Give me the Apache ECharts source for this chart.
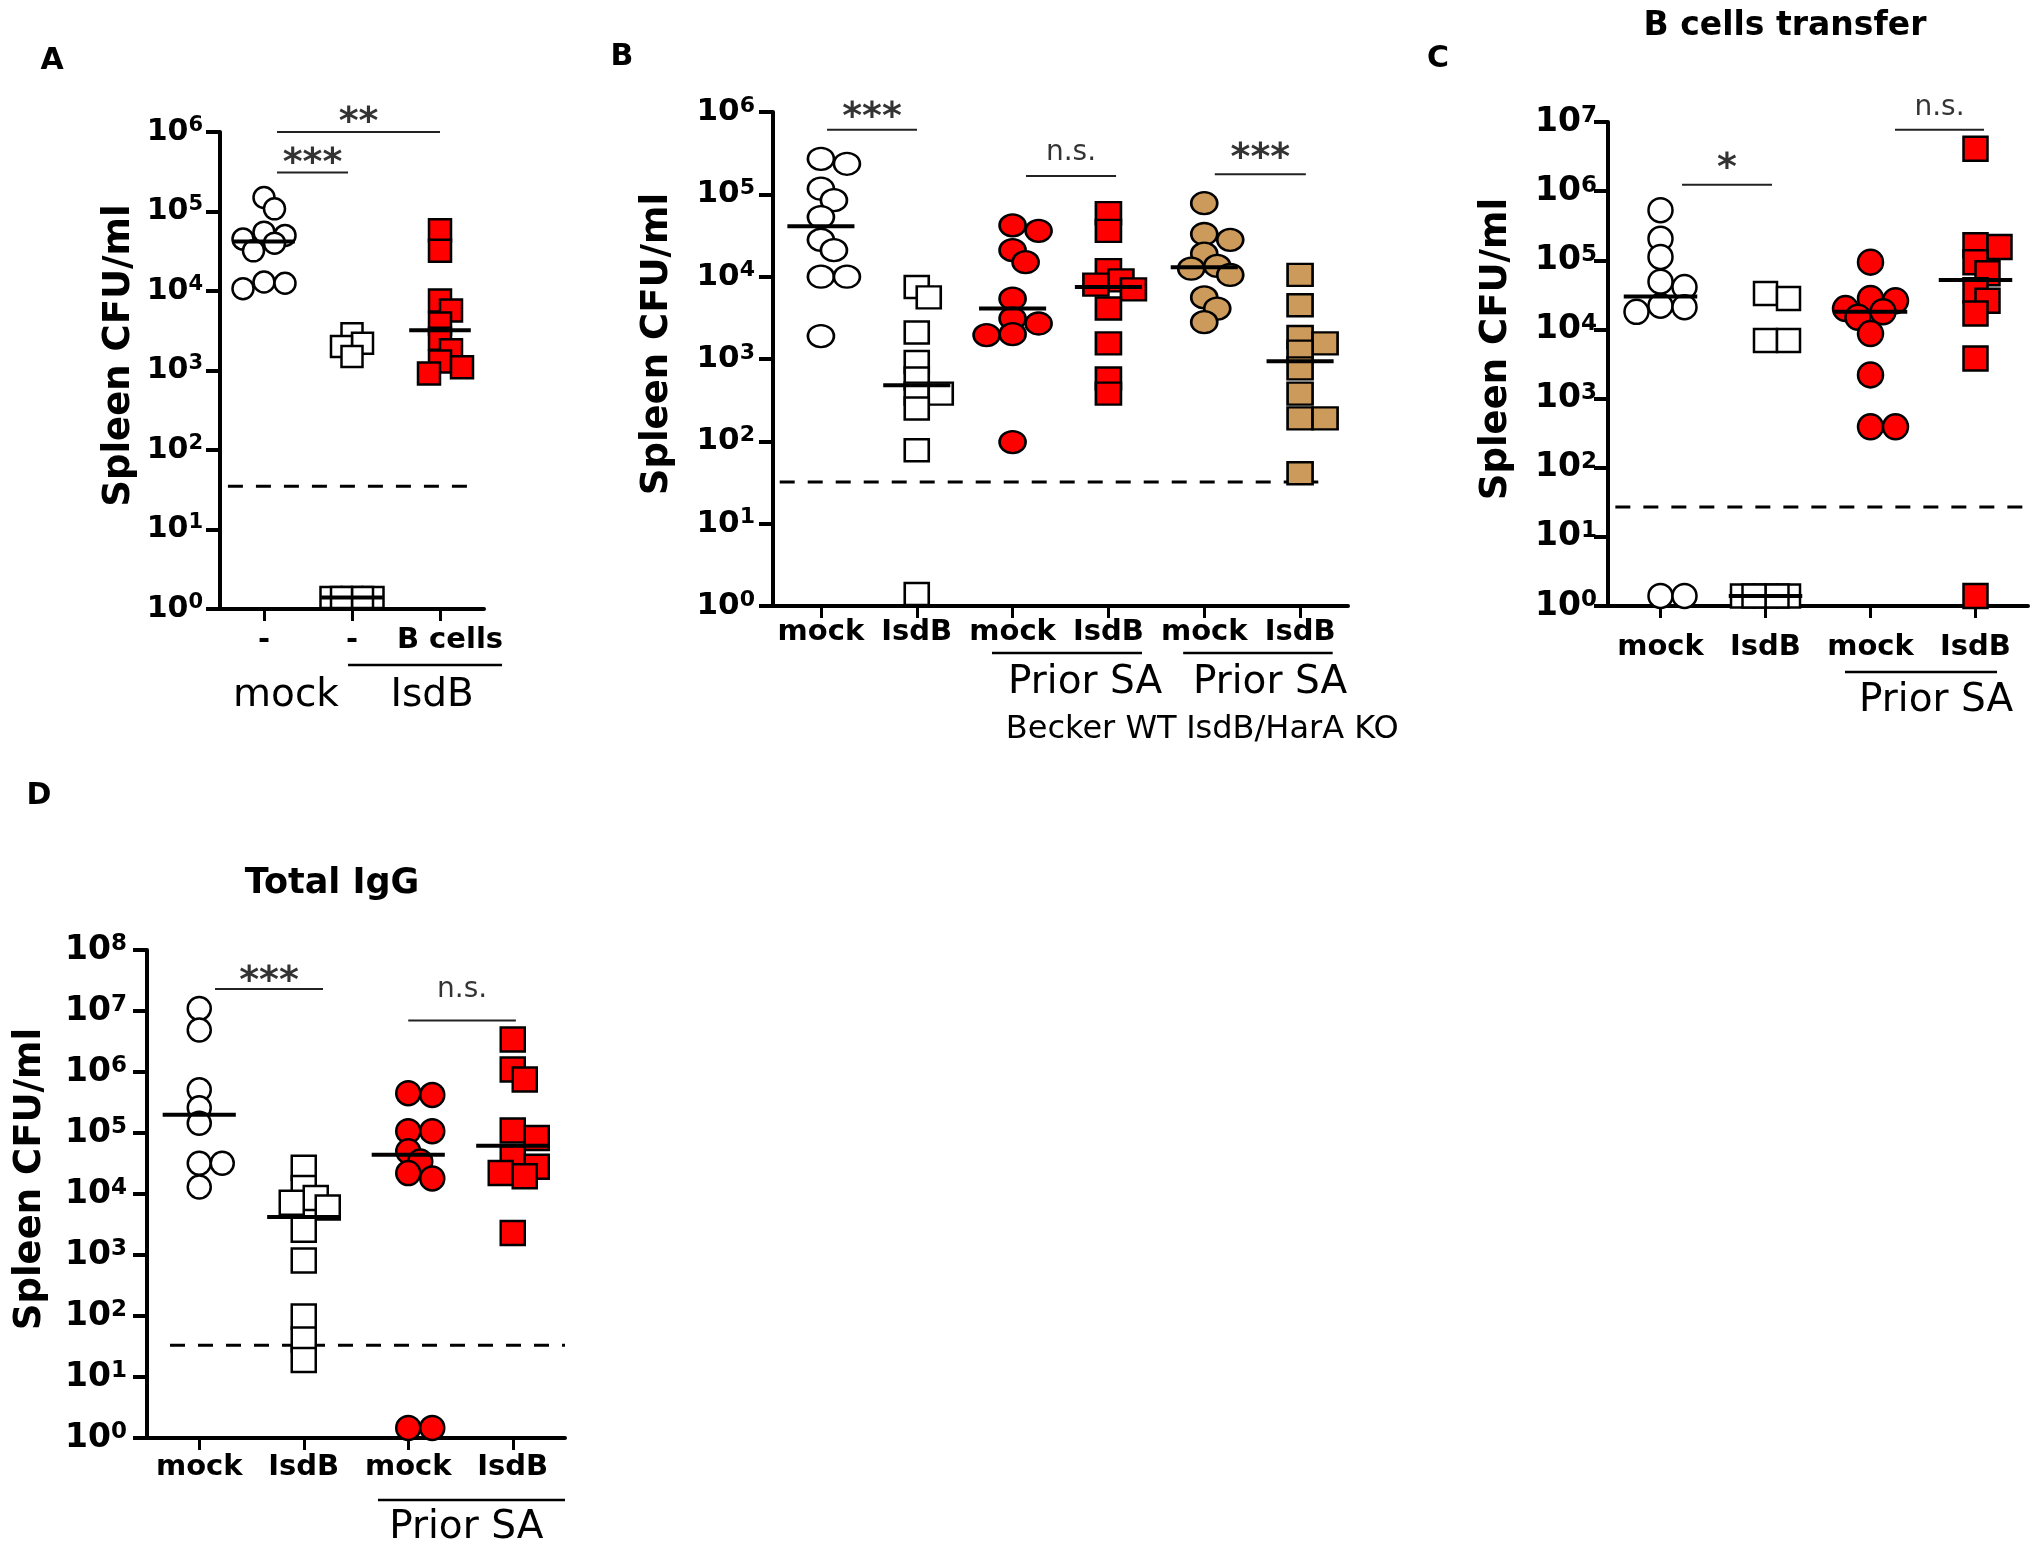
<!DOCTYPE html>
<html><head><meta charset="utf-8">
<script src="https://cdn.jsdelivr.net/npm/echarts@6/dist/echarts.min.js"></script>
<style>html,body{margin:0;padding:0;background:#fff}#c{width:2040px;height:1553px}</style>
</head><body><div id="c"></div>
<script>
// ================= DATA =================
const catsA = ['-', '-', 'B cells'];
const groupTextA = ['mock', 'IsdB'];
const A_mock   = [1.5e5, 1.08e5, 5.5e4, 5e4, 4.5e4, 4e4, 3.2e4, 1.3e4, 1.25e4, 1.07e4];
const A_isdb   = [2.9e3, 2.2e3, 2.0e3, 1.5e3, 1.4, 1.4, 1.4, 1.4, 1.4];
const A_bcells = [5.8e4, 3.2e4, 7.6e3, 5.7e3, 3.9e3, 2.5e3, 1.8e3, 1.3e3, 1.1e3, 9.2e2];
const A_medians = [4.2e4, 1.4, 3.2e3];
const A_limit = 35;
const A_sig = ['**', '***'];
const A_sigLevel = [1e6, 3.1e5];

const catsB = ['mock', 'IsdB', 'mock', 'IsdB', 'mock', 'IsdB'];
const groupTextB = ['Prior SA', 'Prior SA', 'Becker WT', 'IsdB/HarA KO'];
const B_mock      = [2.7e5, 2.35e5, 1.17e5, 8.5e4, 5.3e4, 2.8e4, 2.1e4, 1.0e4, 1.0e4, 1.9e3];
const B_isdb      = [7.5e3, 5.6e3, 2.1e3, 9.2e2, 5.8e2, 3.8e2, 3.8e2, 2.5e2, 78, 1.4];
const B_priorMock = [4.2e4, 3.6e4, 2.1e4, 1.5e4, 5.4e3, 3.1e3, 2.7e3, 2.0e3, 1.95e3, 98];
const B_priorIsdb = [5.9e4, 3.6e4, 1.2e4, 9e3, 8e3, 7e3, 4.1e3, 1.55e3, 5.8e2, 3.8e2];
const B_koMock    = [7.8e4, 3.3e4, 2.8e4, 1.9e4, 1.35e4, 1.25e4, 1.05e4, 5.6e3, 4.1e3, 2.8e3];
const B_koIsdb    = [1.05e4, 4.5e3, 1.85e3, 1.55e3, 1.23e3, 7.7e2, 3.8e2, 1.9e2, 1.9e2, 41];
const B_medians = [4.1e4, 4.8e2, 4.1e3, 7.5e3, 1.3e4, 9.4e2];
const B_limit = 32;
const B_sig = ['***', 'n.s.', '***'];
const B_sigLevel = [6.1e5, 1.67e5, 1.75e5];

const catsC = ['mock', 'IsdB', 'mock', 'IsdB'];
const groupTextC = ['Prior SA'];
const C_mock      = [5.3e5, 2.05e5, 1.12e5, 4.9e4, 4.1e4, 2.2e4, 2.1e4, 1.8e4, 1.4, 1.4];
const C_isdb      = [3.3e4, 2.8e4, 6.9e3, 6.9e3, 1.4, 1.4, 1.4, 1.4, 1.4];
const C_priorMock = [9.4e4, 2.8e4, 2.6e4, 2.0e4, 1.8e4, 1.5e4, 8.7e3, 2.2e3, 3.9e2, 3.9e2];
const C_priorIsdb = [4.1e6, 1.65e5, 1.56e5, 9.4e4, 6.5e4, 3.7e4, 2.6e4, 1.7e4, 3.8e3, 1.4];
const C_medians = [3.0e4, 1.4, 1.8e4, 5.2e4];
const C_limit = 27;
const C_sig = ['*', 'n.s.'];
const C_sigLevel = [1.24e6, 7.7e6];

const catsD = ['mock', 'IsdB', 'mock', 'IsdB'];
const groupTextD = ['Prior SA'];
const D_mock      = [1.1e7, 4.9e6, 5.1e5, 2.6e5, 1.45e5, 3.2e4, 3.2e4, 1.3e4];
const D_isdb      = [2.7e4, 1.26e4, 8.6e3, 7.2e3, 6e3, 2.6e3, 8.1e2, 98, 41, 19];
const D_priorMock = [4.5e5, 4.2e5, 1.07e5, 1.07e5, 5e4, 3.4e4, 2.2e4, 1.8e4, 1.46, 1.46];
const D_priorIsdb = [3.4e6, 1.1e6, 7.5e5, 1.1e5, 8.3e4, 3.9e4, 2.8e4, 2.2e4, 1.95e4, 2.3e3];
const D_medians = [2.0e5, 4.2e3, 4.4e4, 6.2e4];
const D_limit = 33;
const D_sig = ['***', 'n.s.'];
const D_sigLevel = [2.3e7, 7e6];

const yTitle = 'Spleen CFU/ml';
const panelLetters = ['A', 'B', 'C', 'D'];
const titleC = 'B cells transfer';
const titleD = 'Total IgG';

// ================= STYLE / LAYOUT =================
const FN = 'DejaVu Sans';
const RED = '#ff0000', TAN = '#cc9a5a', WHITE = '#ffffff';

const panels = [
  { left: 220, top: 132, width: 264, height: 477, maxExp: 6, cats: catsA,
    catMargin: 17, tickFs: 30, tickMargin: 17, nameGap: 82,
    groups: [
      { vals: A_mock, shape: 'circle', fill: WHITE, size: [21, 21] },
      { vals: A_isdb, shape: 'rect', fill: WHITE, size: [21, 21] },
      { vals: A_bcells, shape: 'rect', fill: RED, size: [22, 22] }],
    medians: A_medians, limit: A_limit, limitSpan: [-0.41, 2.42],
    brackets: [{ x0: 0.148, x1: 2.0, gap: 20 }, { x0: 0.148, x1: 0.955, gap: 19 }],
    sig: A_sig, sigLevel: A_sigLevel,
    glines: [{ u0: 1.455, u1: 3.205, dy: 56 }],
    gtexts: [{ i: 0, u: 0.75, dy: 87, fs: 39 }, { i: 1, u: 2.41, dy: 87, fs: 39 }], gtext: groupTextA },
  { left: 773, top: 112, width: 575, height: 494, maxExp: 6, cats: catsB,
    catMargin: 12, tickFs: 31, tickMargin: 18, nameGap: 97,
    groups: [
      { vals: B_mock, shape: 'circle', fill: WHITE, size: [26, 22] },
      { vals: B_isdb, shape: 'rect', fill: WHITE, size: [24, 22] },
      { vals: B_priorMock, shape: 'circle', fill: RED, size: [26, 22] },
      { vals: B_priorIsdb, shape: 'rect', fill: RED, size: [25, 22] },
      { vals: B_koMock, shape: 'circle', fill: TAN, size: [26, 22] },
      { vals: B_koIsdb, shape: 'rect', fill: TAN, size: [25, 22] }],
    medians: B_medians, limit: B_limit, limitSpan: [-0.43, 5.19],
    brackets: [{ x0: 0.064, x1: 1.003, gap: 22 }, { x0: 2.14, x1: 3.08, gap: 23 }, { x0: 4.11, x1: 5.06, gap: 26 }],
    sig: B_sig, sigLevel: B_sigLevel,
    glines: [{ u0: 2.285, u1: 3.85, dy: 47 }, { u0: 4.28, u1: 5.84, dy: 47 }],
    gtexts: [{ i: 0, u: 3.256, dy: 77, fs: 39 }, { i: 1, u: 5.186, dy: 77, fs: 39 },
             { i: 2, u: 3.32, dy: 124, fs: 32 }, { i: 3, u: 5.42, dy: 124, fs: 32 }], gtext: groupTextB },
  { left: 1608, top: 122, width: 420, height: 484, maxExp: 7, cats: catsC,
    catMargin: 27, tickFs: 33, tickMargin: 11, nameGap: 93,
    groups: [
      { vals: C_mock, shape: 'circle', fill: WHITE, size: [24, 24] },
      { vals: C_isdb, shape: 'rect', fill: WHITE, size: [23, 23] },
      { vals: C_priorMock, shape: 'circle', fill: RED, size: [25, 25] },
      { vals: C_priorIsdb, shape: 'rect', fill: RED, size: [24, 24] }],
    medians: C_medians, limit: C_limit, limitSpan: [-0.43, 3.5],
    brackets: [{ x0: 0.205, x1: 1.062, gap: 26 }, { x0: 2.233, x1: 3.081, gap: 22 }],
    sig: C_sig, sigLevel: C_sigLevel,
    glines: [{ u0: 2.257, u1: 3.705, dy: 66 }],
    gtexts: [{ i: 0, u: 3.124, dy: 95, fs: 39 }], gtext: groupTextC },
  { left: 147, top: 950, width: 418, height: 488, maxExp: 8, cats: catsD,
    catMargin: 15, tickFs: 33, tickMargin: 20, nameGap: 98,
    groups: [
      { vals: D_mock, shape: 'circle', fill: WHITE, size: [23, 23] },
      { vals: D_isdb, shape: 'rect', fill: WHITE, size: [24, 24] },
      { vals: D_priorMock, shape: 'circle', fill: RED, size: [24, 24] },
      { vals: D_priorIsdb, shape: 'rect', fill: RED, size: [24, 24] }],
    medians: D_medians, limit: D_limit, limitSpan: [-0.28, 3.5],
    brackets: [{ x0: 0.151, x1: 1.184, gap: 17 }, { x0: 2.0, x1: 3.03, gap: 31 }],
    sig: D_sig, sigLevel: D_sigLevel,
    glines: [{ u0: 2.21, u1: 4.0, dy: 62 }],
    gtexts: [{ i: 0, u: 3.055, dy: 90, fs: 39 }], gtext: groupTextD }
];

const XC = 0.5;

function swarm(vals, gi, w, h, cw, ppd) {
  const placed = [], out = [];
  const s = w / 2;
  const cands = [0, s, -s, 2 * s, -2 * s];
  vals.forEach(v => {
    const y = Math.log10(v) * ppd;
    let best = 0, bestD = -1;
    for (const c of cands) {
      let md = Infinity;
      for (const p of placed) {
        md = Math.min(md, Math.hypot((c - p[0]) / w, (y - p[1]) / h));
      }
      if (md >= 0.65) { best = c; break; }
      if (md > bestD) { bestD = md; best = c; }
    }
    placed.push([best, y]);
    out.push([gi + XC + best / cw, v]);
  });
  return out;
}

const option = { animation: false, backgroundColor: '#fff', grid: [], xAxis: [], yAxis: [], series: [], graphic: [] };

panels.forEach((p, k) => {
  const n = p.cats.length, cw = p.width / n, ppd = p.height / p.maxExp, bottom = p.top + p.height;
  const sf = Math.round(p.tickFs * 0.7);
  option.grid.push({ left: p.left, top: p.top, width: p.width, height: p.height, containLabel: false, outerBoundsMode: 'none' });
  option.xAxis.push({
    type: 'category', gridIndex: k, data: p.cats.map(c => c === 'B cells' ? { value: c, textStyle: { padding: [0, 0, 0, 20] } } : c),
    boundaryGap: true,
    axisLine: { show: true, onZero: false, lineStyle: { color: '#000', width: 4 } },
    axisTick: { show: true, alignWithLabel: true, inside: false, length: 12, lineStyle: { color: '#000', width: 3 } },
    axisLabel: { show: true, interval: 0, margin: p.catMargin, fontFamily: FN, fontWeight: 'bold', fontSize: 29, color: '#000' },
    splitLine: { show: false }
  });
  option.xAxis.push({ type: 'value', gridIndex: k, min: 0, max: n, show: false, splitLine: { show: false },
    axisLine: { show: false, onZero: false } });
  option.yAxis.push({
    type: 'log', logBase: 10, gridIndex: k, min: 1, max: Math.pow(10, p.maxExp), position: 'left',
    axisLine: { show: true, onZero: false, lineStyle: { color: '#000', width: 4 } },
    axisTick: { show: true, inside: false, length: 14, lineStyle: { color: '#000', width: 4 } },
    minorTick: { show: false }, splitLine: { show: false }, minorSplitLine: { show: false },
    axisLabel: {
      show: true, margin: p.tickMargin,
      formatter: v => '{b|10}{s|' + Math.round(Math.log10(v)) + '}',
      rich: {
        b: { fontFamily: FN, fontWeight: 'bold', fontSize: p.tickFs, color: '#000', lineHeight: 34 },
        s: { fontFamily: FN, fontWeight: 'bold', fontSize: sf, color: '#000', lineHeight: 20, verticalAlign: 'top' }
      }
    },
    name: yTitle, nameLocation: 'middle', nameRotate: 90, nameGap: p.nameGap,
    nameTextStyle: { fontFamily: FN, fontWeight: 'bold', fontSize: 37, color: '#000', padding: [0, 0, 0, 30] }
  });
  const xi = 2 * k + 1;
  option.series.push({ type: 'line', xAxisIndex: xi, yAxisIndex: k, silent: true, clip: false, symbol: 'none',
    data: [[p.limitSpan[0] + XC, p.limit], [p.limitSpan[1] + XC, p.limit]],
    lineStyle: { color: '#000', width: 3, type: [15, 13] }, z: 1 });
  p.groups.forEach((g, gi) => {
    option.series.push({ type: 'scatter', xAxisIndex: xi, yAxisIndex: k, silent: true, clip: false,
      data: swarm(g.vals, gi, g.size[0], g.size[1], cw, ppd),
      symbol: g.shape, symbolSize: g.size,
      itemStyle: { color: g.fill, borderColor: '#000', borderWidth: 2.5, opacity: 1 }, z: 3 });
  });
  option.series.push({ type: 'scatter', xAxisIndex: xi, yAxisIndex: k, silent: true, clip: false,
    data: p.medians.map((m, i) => [i + XC, m]), symbol: 'rect', symbolSize: [cw * 0.7, 4],
    itemStyle: { color: '#000', opacity: 1 }, z: 5 });
  p.brackets.forEach((b, bi) => {
    const txt = p.sig[bi], y = p.sigLevel[bi];
    const star = txt.indexOf('*') >= 0;
    const fs = star ? 38 : 28;
    const off = star ? b.gap - 0.28 * fs : b.gap;
    option.series.push({ type: 'line', xAxisIndex: xi, yAxisIndex: k, silent: true, clip: false, symbol: 'none',
      data: [[b.x0 + XC, y], [b.x1 + XC, y]], lineStyle: { color: '#222', width: 2 }, z: 4 });
    option.series.push({ type: 'scatter', xAxisIndex: xi, yAxisIndex: k, silent: true, clip: false,
      data: [[(b.x0 + b.x1) / 2 + XC, y]], symbolSize: 1, itemStyle: { color: 'rgba(0,0,0,0)' },
      label: { show: true, position: 'inside', offset: [0, -off], formatter: txt, fontFamily: FN, fontSize: fs,
        fontWeight: star ? 'bold' : 'normal', color: '#000', textBorderWidth: 0, align: 'center', verticalAlign: 'middle' }, z: 6 });
  });
  p.glines.forEach(l => {
    option.graphic.push({ type: 'line', silent: true,
      shape: { x1: p.left + l.u0 * cw, y1: bottom + l.dy, x2: p.left + l.u1 * cw, y2: bottom + l.dy },
      style: { stroke: '#000', lineWidth: 2.5 } });
  });
  p.gtexts.forEach(t => {
    option.graphic.push({ type: 'text', silent: true, x: p.left + t.u * cw, y: bottom + t.dy,
      style: { text: p.gtext[t.i], font: t.fs + 'px "' + FN + '"', fill: '#000', textAlign: 'center', textVerticalAlign: 'middle', align: 'center', verticalAlign: 'middle' } });
  });
});

const letterPos = [[52, 61], [622, 57], [1438, 59], [39, 796]];
panelLetters.forEach((L, i) => {
  option.graphic.push({ type: 'text', silent: true, x: letterPos[i][0], y: letterPos[i][1],
    style: { text: L, font: 'bold 30px "' + FN + '"', fill: '#000', textAlign: 'center', textVerticalAlign: 'middle', align: 'center', verticalAlign: 'middle' } });
});
option.graphic.push({ type: 'text', silent: true, x: 1785, y: 26,
  style: { text: titleC, font: 'bold 33px "' + FN + '"', fill: '#000', textAlign: 'center', textVerticalAlign: 'middle', align: 'center', verticalAlign: 'middle' } });
option.graphic.push({ type: 'text', silent: true, x: 332, y: 884,
  style: { text: titleD, font: 'bold 35px "' + FN + '"', fill: '#000', textAlign: 'center', textVerticalAlign: 'middle', align: 'center', verticalAlign: 'middle' } });

const chart = echarts.init(document.getElementById('c'), null, { renderer: 'canvas' });
chart.setOption(option);
</script>
</body></html>
